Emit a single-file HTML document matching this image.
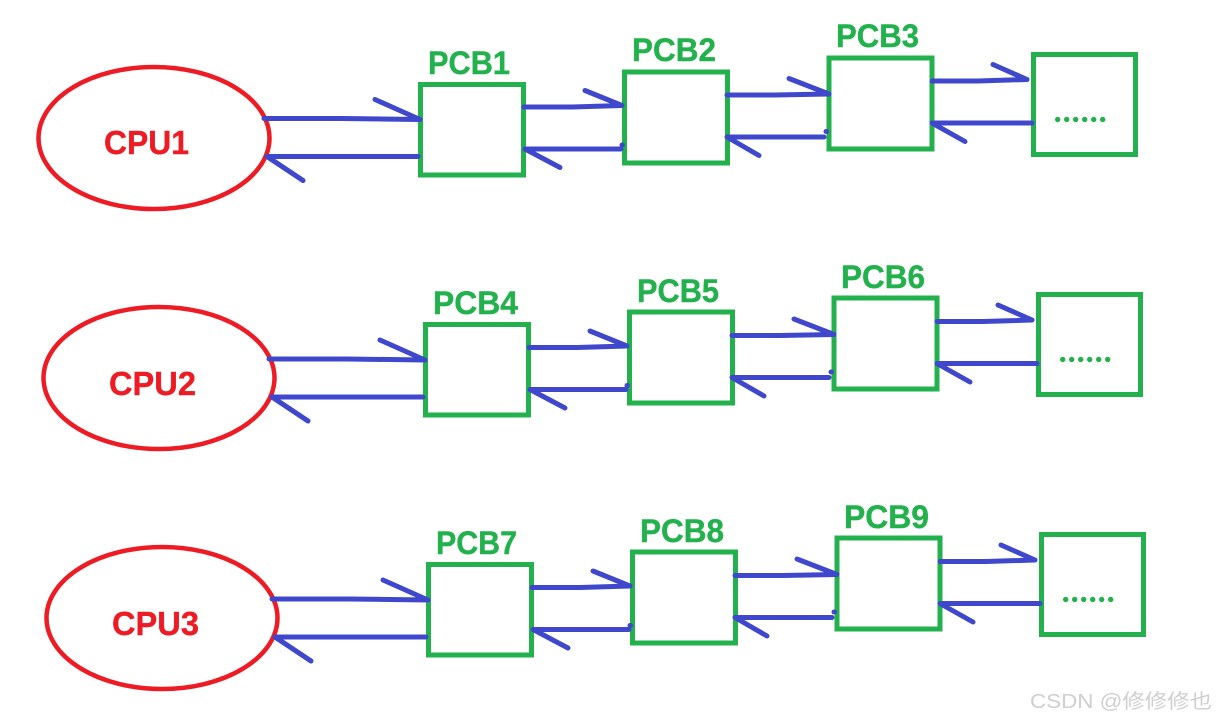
<!DOCTYPE html>
<html>
<head>
<meta charset="utf-8">
<style>
html,body{margin:0;padding:0;background:#fff;width:1216px;height:720px;overflow:hidden}
svg{display:block}
text{font-family:"Liberation Sans","Noto Sans CJK SC",sans-serif}
.l{font-weight:bold;font-size:32px;fill:#22b14c;stroke:#22b14c;stroke-width:.4}
.c{font-weight:bold;font-size:33px;fill:#ed1c24;stroke:#ed1c24;stroke-width:.4}
</style>
</head>
<body>
<svg width="1216" height="720" viewBox="0 0 1216 720" xmlns="http://www.w3.org/2000/svg">
<defs>
<g id="row">
  <ellipse cx="154" cy="138" rx="115.5" ry="71" fill="none" stroke="#ed1c24" stroke-width="4.5"/>
  <g fill="none" stroke="#22b14c" stroke-width="5">
    <rect x="420.5" y="84.5" width="103" height="90.500"/>
    <rect x="624.5" y="72" width="103" height="91"/>
    <rect x="829" y="58" width="103" height="91"/>
    <rect x="1033.5" y="54.5" width="102" height="100"/>
  </g>
  <g fill="#22b14c">
    <circle cx="1057.7" cy="119.5" r="2.7"/><circle cx="1066.7" cy="119.5" r="2.7"/><circle cx="1075.7" cy="119.5" r="2.7"/>
    <circle cx="1084.7" cy="119.5" r="2.7"/><circle cx="1093.7" cy="119.5" r="2.7"/><circle cx="1102.7" cy="119.5" r="2.7"/>
  </g>
</g>
<g id="arrows" fill="none" stroke="#3f48cc" stroke-width="5" stroke-linecap="round" stroke-linejoin="round">
  <path d="M264 118H342L420 119M375 99L420 119"/>
  <path d="M418 156H267M267 156L303 180"/>
  <path d="M524 106.500H572L622 105M585 90L622 105"/>
  <path d="M621 148.500H573L525 148.500M525 148.500L560 167"/>
  <path d="M622 144.500L622.500 144.500"/>
  <path d="M727 94.500H775L829 93.500M789 78L829 93.500"/>
  <path d="M824 136.500H727M727 136.500L759 155"/>
  <path d="M826 131L826.500 131"/>
  <path d="M932 80.500H978L1027 79M993 64L1027 79"/>
  <path d="M1032 122.500H932M932 122.500L965 141"/>
</g>
</defs>
<rect width="1216" height="720" fill="#fff"/>
<use href="#row"/>
<use href="#row" x="5" y="240"/>
<use href="#row" x="8" y="480"/>
<use href="#arrows" y="0.5"/>
<use href="#arrows" x="5" y="241"/>
<use href="#arrows" x="8" y="481"/>

<text class="c" x="104" y="154" textLength="85" lengthAdjust="spacingAndGlyphs">CPU1</text>
<text class="c" x="109" y="395" textLength="87" lengthAdjust="spacingAndGlyphs">CPU2</text>
<text class="c" x="112" y="635" textLength="87" lengthAdjust="spacingAndGlyphs">CPU3</text>

<text class="l" x="428" y="74" textLength="82" lengthAdjust="spacingAndGlyphs">PCB1</text>
<text class="l" x="632" y="61" textLength="84" lengthAdjust="spacingAndGlyphs">PCB2</text>
<text class="l" x="836" y="47" textLength="83" lengthAdjust="spacingAndGlyphs">PCB3</text>

<text class="l" x="433" y="314" textLength="85" lengthAdjust="spacingAndGlyphs">PCB4</text>
<text class="l" x="637" y="302" textLength="82" lengthAdjust="spacingAndGlyphs">PCB5</text>
<text class="l" x="841" y="288" textLength="84" lengthAdjust="spacingAndGlyphs">PCB6</text>

<text class="l" x="436" y="554" textLength="81" lengthAdjust="spacingAndGlyphs">PCB7</text>
<text class="l" x="640" y="542" textLength="84" lengthAdjust="spacingAndGlyphs">PCB8</text>
<text class="l" x="844" y="528" textLength="85" lengthAdjust="spacingAndGlyphs">PCB9</text>

<text x="1030" y="708" font-size="20" fill="#cfcfcf" textLength="182" lengthAdjust="spacingAndGlyphs">CSDN @修修修也</text>
</svg>
</body>
</html>
